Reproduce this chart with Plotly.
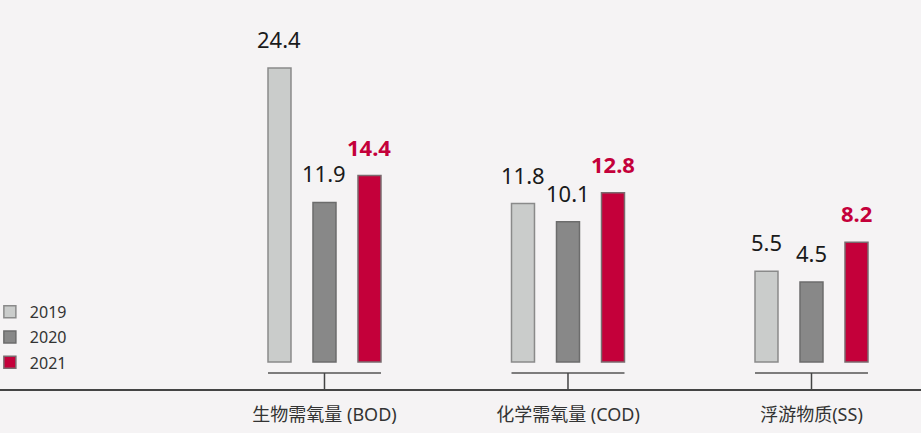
import plotly.graph_objects as go

categories = ["生物需氧量 (BOD)", "化学需氧量 (COD)", "浮游物质(SS)"]
years = ["2019", "2020", "2021"]
values_2019 = [24.4, 11.8, 5.5]
values_2020 = [11.9, 10.1, 4.5]
values_2021 = [14.4, 12.8, 8.2]

series = [values_2019, values_2020, values_2021]
fills = ["#cacccb", "#888888", "#c4003a"]
borders = ["#8a8a8a", "#6c6c6c", "#7a6a6e"]
label_colors = ["#1a1a1a", "#1a1a1a", "#c4003a"]

BG = "#f5f3f4"
BAR_BASE = -2.94
BARGAP = 0.4456
SLOT = (1 - BARGAP) / 3
FONT = "Noto Sans, Noto Sans CJK SC, sans-serif"

fig = go.Figure()

for k, (year, vals) in enumerate(zip(years, series)):
    fig.add_trace(
        go.Bar(
            x=categories,
            y=[v - BAR_BASE for v in vals],
            base=BAR_BASE,
            name=year,
            legendgroup=year,
            marker=dict(color=fills[k], line=dict(color=borders[k], width=1.5)),
            hoverinfo="skip",
        )
    )
    # value labels above each bar
    for i, v in enumerate(vals):
        fig.add_annotation(
            x=i + (k - 1) * SLOT,
            y=v,
            xref="x",
            yref="y",
            text=f"<b>{v}</b>" if k == 2 else f"{v}",
            showarrow=False,
            yanchor="bottom",
            yshift=12,
            font=dict(family=FONT, size=22, color=label_colors[k]),
        )

# bracket under each group
half = SLOT + SLOT * 0.511 / 2
for i in range(len(categories)):
    fig.add_shape(type="line", xref="x", yref="paper",
                  x0=i - half, x1=i + half, y0=0.0411, y1=0.0411,
                  line=dict(color="#555555", width=1.5))
    fig.add_shape(type="line", xref="x", yref="paper",
                  x0=i, x1=i, y0=0, y1=0.0411,
                  line=dict(color="#444444", width=1.5))

fig.update_layout(
    width=921,
    height=433,
    margin=dict(l=0, r=0, t=0, b=44, autoexpand=False),
    paper_bgcolor=BG,
    plot_bgcolor=BG,
    barmode="group",
    bargap=BARGAP,
    bargroupgap=0.489,
    font=dict(family=FONT, color="#333333"),
    showlegend=True,
    legend=dict(
        x=-0.011, xanchor="left",
        y=0.242, yanchor="top",
        traceorder="grouped",
        tracegroupgap=1.5,
        font=dict(family=FONT, size=16, color="#333333"),
        bgcolor="rgba(0,0,0,0)",
    ),
    xaxis=dict(
        type="category",
        range=[-1.3326, 2.4497],
        showline=True,
        linecolor="#444444",
        linewidth=1.5,
        ticks="",
        showgrid=False,
        zeroline=False,
        automargin=False,
        tickfont=dict(family=FONT, size=18, color="#333333"),
        ticklabelstandoff=9,
    ),
    yaxis=dict(
        range=[-5.45, 30.73],
        showgrid=False,
        zeroline=False,
        showticklabels=False,
        showline=False,
        automargin=False,
    ),
)

fig.write_html(
    "out.html",
    config={"displayModeBar": False},
    post_script="document.body.style.margin='0';document.body.style.background='" + BG + "';",
)
